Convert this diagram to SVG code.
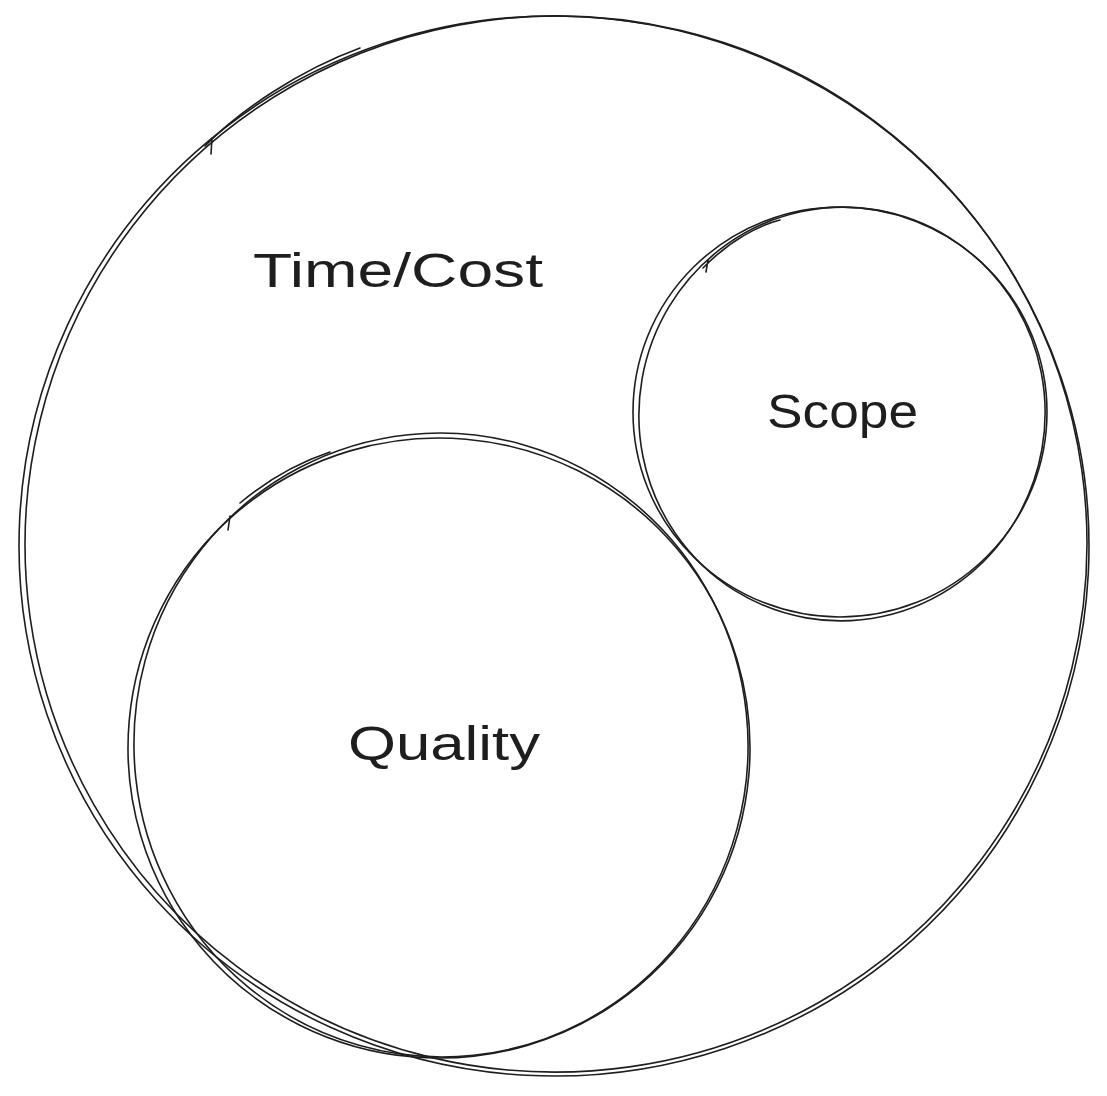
<svg xmlns="http://www.w3.org/2000/svg" width="1107" height="1096" viewBox="0 0 1107 1096">
<style>
.c{fill:none;stroke:#1e1e1e;stroke-width:1.6;stroke-linecap:round}
.t{font-family:"Liberation Sans",Arial,sans-serif;font-size:48px;fill:#1e1e1e}
</style>
<rect width="1107" height="1096" fill="#ffffff"/>
<g id="timecost">
<ellipse class="c" cx="554" cy="546" rx="535" ry="530" transform="rotate(3 554 546)"/>
<ellipse class="c" cx="556" cy="544" rx="531" ry="528" transform="rotate(-8 556 544)"/>
<path class="c" d="M212 138 L211 154 M205 146 C240 110 300 70 360 48"/>
<text class="t" x="253" y="287" textLength="290" lengthAdjust="spacingAndGlyphs">Time/Cost</text>
</g>
<g id="scope">
<ellipse class="c" cx="840" cy="412" rx="207" ry="205"/>
<ellipse class="c" cx="842" cy="414" rx="203" ry="207" transform="rotate(10 842 414)"/>
<path class="c" d="M708 260 L706 272 M703 268 C730 240 760 225 780 220"/>
<text class="t" x="767" y="428" textLength="151" lengthAdjust="spacingAndGlyphs">Scope</text>
</g>
<g id="quality">
<ellipse class="c" cx="439" cy="748" rx="311" ry="310" transform="rotate(5 439 748)"/>
<ellipse class="c" cx="441" cy="745" rx="307" ry="312" transform="rotate(-6 441 745)"/>
<path class="c" d="M230 516 L228 530 M240 503 C270 478 300 462 330 452"/>
<text class="t" x="348" y="760" textLength="192" lengthAdjust="spacingAndGlyphs">Quality</text>
</g>
<g id="connectors"/>
</svg>
